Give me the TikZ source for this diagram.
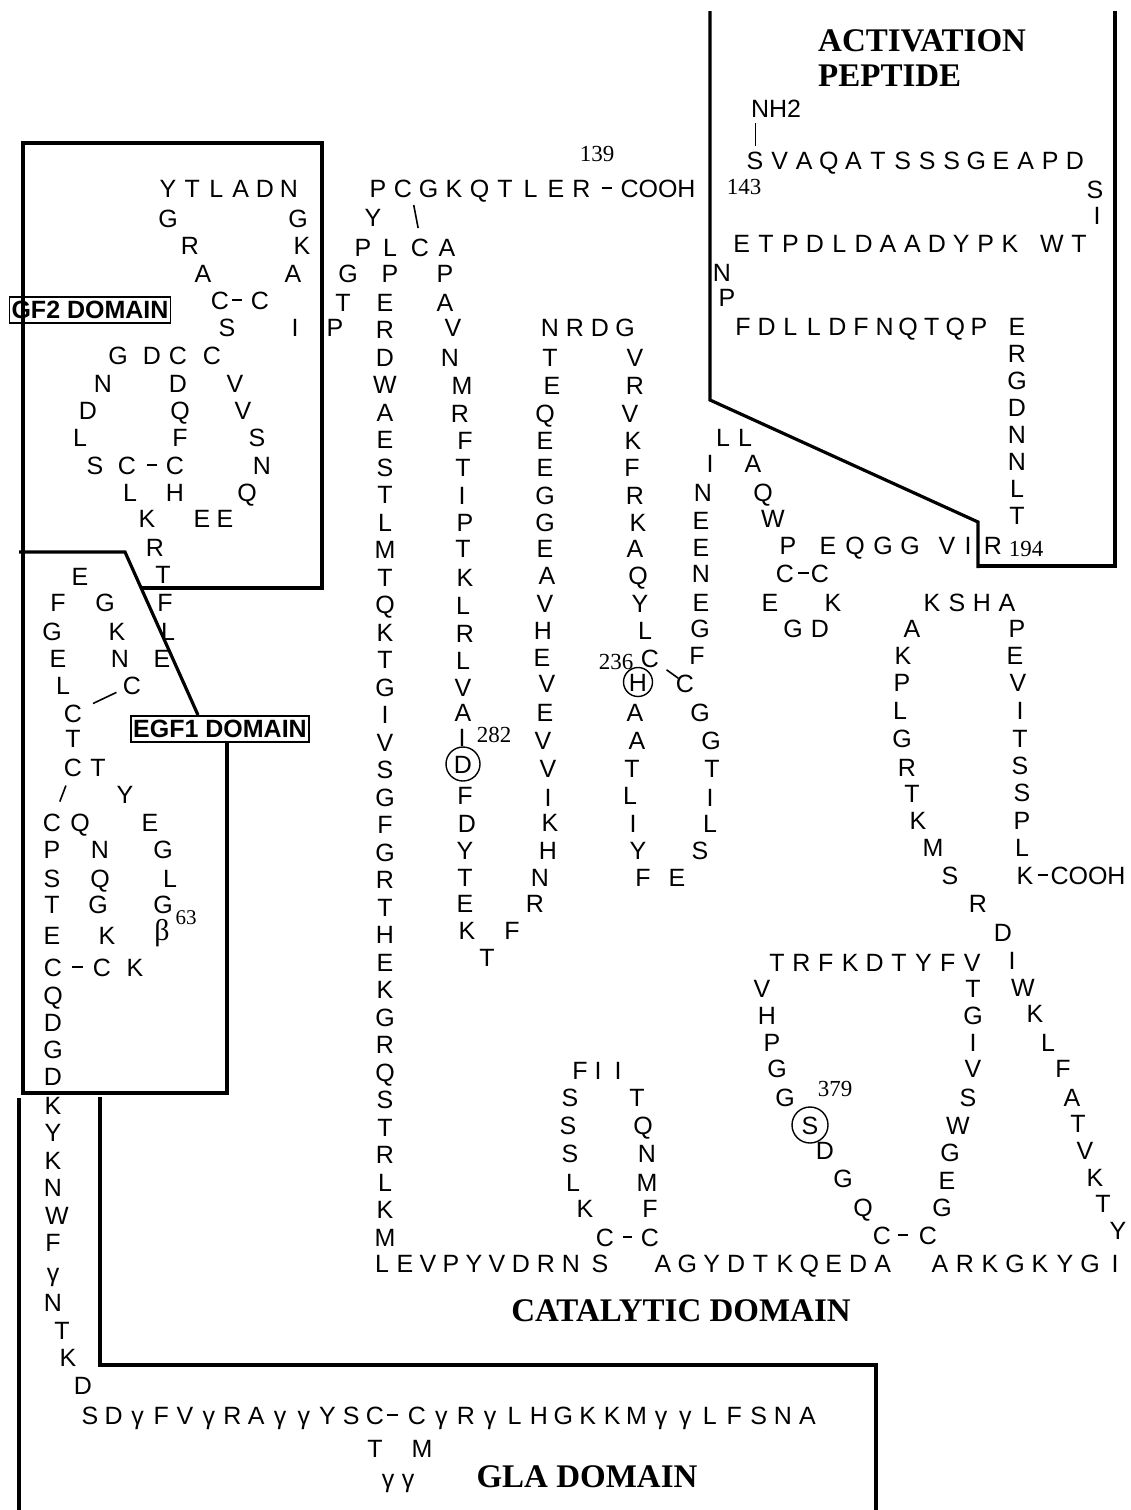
\documentclass[tikz,border=0pt]{standalone}
\usepackage{fontspec}
\setmainfont{Liberation Serif}
\setsansfont{Liberation Sans}
\newcommand\fxresfont{\sffamily\fontsize{25}{30}\selectfont}
\newcommand\fxnumfont{\rmfamily\fontsize{23}{27}\selectfont}
\newcommand\fxdomfont{\rmfamily\bfseries\fontsize{33}{38}\selectfont}
\newcommand\fxtagfont{\sffamily\bfseries\fontsize{25}{30}\selectfont}
\tikzset{
  fx res/.style={font=\fxresfont,inner sep=0pt,text height=18pt,text depth=0pt},
  fx num/.style={font=\fxnumfont,inner sep=0pt},
  fx domain/.style={font=\fxdomfont,inner sep=0pt},
  fx tag/.style={draw,line width=1.6pt,font=\fxtagfont,inner xsep=2pt,inner ysep=4pt},
  fx border/.style={line width=3.2pt},
  fx bond/.style={line width=1.6pt},
  fx ring/.style={line width=1.4pt}
}

\begin{document}
\begin{tikzpicture}[x=1pt,y=-1pt]
  \fill[white] (0,0) rectangle (1131,1510);
  \useasboundingbox (0,0) rectangle (1131,1510);

  \draw[fx border] (142,588) -- (322,588) -- (322,143) -- (23,143) -- (23,1093) -- (227,1093) -- (227,743);
  \draw[fx border] (19,552) -- (125,552) -- (198,715);
  \draw[fx border] (19,1098) -- (19,1510);
  \draw[fx border] (100,1097) -- (100,1365) -- (876,1365) -- (876,1510);
  \draw[fx border] (710,11) -- (710,400) -- (978,522) -- (978,568);
  \draw[fx border] (978,566) -- (1115,566) -- (1115,11);

  \node[fx tag] (egf2tag) at (90,310) {GF2 DOMAIN};
  \node[fx tag] (egf1tag) at (220,729) {EGF1 DOMAIN};
  \node[fx domain,anchor=west] (actlab) at (818,41) {ACTIVATION};
  \node[fx domain,anchor=west] (peplab) at (818,76) {PEPTIDE};
  \node[fx domain] (catlab) at (681,1311) {CATALYTIC DOMAIN};
  \node[fx domain] (glalab) at (587,1477) {GLA DOMAIN};

  \foreach \rc [count=\rn from 1] in {A,N,S,F,L,γ,γ,M,K,K,G,H,L,γ,R,γ,C}
    \node[fx res] (r\rn) at ({807.4-24.4*(\rn-1)},1415) {\rc};
  \node[fx res] (r18) at (422,1448) {M};
  \node[fx res] (r19) at (408,1478) {γ};
  \node[fx res] (r20) at (388,1478) {γ};
  \node[fx res] (r21) at (375,1448) {T};
  \foreach \rc [count=\rn from 22] in {C,S,Y,γ,γ,A,R,γ,V,F,γ,D,S}
    \node[fx res] (r\rn) at ({375-23.75*(\rn-22)},1415) {\rc};
  \foreach \rn/\rc/\x/\y in {35/D/83/1385,36/K/68/1357,37/T/62/1330,38/N/53/1302,39/γ/53/1272,
      40/F/53/1242,41/W/57/1215,42/N/53/1187,43/K/53/1160,44/Y/53/1132,45/K/53/1105,
      46/D/53/1076,47/G/53/1049,48/D/53/1022,49/Q/53/995}
    \node[fx res] (r\rn) at (\x,\y) {\rc};

  \foreach \rn/\rc/\x/\y in {50/C/53/967,51/E/52/935,52/T/52/904,53/S/52/878,54/P/52/849,
      55/C/52/822,56/Q/80/822,57/N/100/849,58/Q/100/878,59/G/98/904,60/K/107/935,
      61/C/102/967,62/K/135/967,64/G/163/904,65/L/170/878,66/G/163/849,67/E/150/822,
      68/Y/125/794,69/T/98/767,70/C/73/767,71/T/73/738,72/C/73/713,73/L/63/685,
      74/E/58/658,75/G/52/631,76/F/58/602,77/E/80/576,78/G/105/602,79/K/117/631,
      80/N/120/658,81/C/132/685,82/E/162/658,83/L/168/631,84/F/165/602,85/T/163/574,
      86/R/155/547,87/K/147/518,88/L/130/492,89/C/127/465,90/S/95/465,91/L/80/437,
      92/D/88/410,93/N/103/383,94/G/118/355,95/D/152/355,96/C/178/355,97/D/178/383,
      98/Q/180/410,99/F/180/437,100/C/175/465,101/H/175/492,102/E/202/518,103/E/225/518,
      104/Q/247/492,105/N/262/465,106/S/257/437,107/V/243/410,108/V/235/383,109/C/212/355,
      110/S/227/327,111/C/220/300,112/A/203/273,113/R/190/245,114/G/168/218,
      121/G/298/218,122/K/302/245,123/A/293/273,124/C/260/300,125/I/295/327,
      126/P/335/327,127/T/343/302,128/G/348/273,129/P/363/247,130/Y/373/217,131/P/378/188}
    \node[fx res] (r\rn) at (\x,\y) {\rc};
  \node[font=\rmfamily\fontsize{30}{34}\selectfont,inner sep=0pt] (r63) at (162,933) {β};
  \node[fx num,font=\rmfamily\fontsize{21}{25}\selectfont] (n63) at (186,918) {63};
  \foreach \rc [count=\rn from 115] in {Y,T,L,A,D,N}
    \node[fx res] (r\rn) at ({168+24.2*(\rn-115)},188) {\rc};
  \foreach \rc [count=\rn from 132] in {C,G,K,Q,T,L,E,R}
    \node[fx res] (r\rn) at ({403+25.5*(\rn-132)},188) {\rc};
  \node[fx res] (cooh1) at (658,188) {COOH};
  \node[fx num] (n139) at (597,154) {139};

  \node[fx res] (nh2) at (776,108) {NH2};
  \foreach \rc [count=\rn from 143] in {S,V,A,Q,A,T,S,S,S,G,E,A,P,D}
    \node[fx res] (r\rn) at ({755+24.6*(\rn-143)},160) {\rc};
  \node[fx num] (n143) at (744,187) {143};
  \node[fx res] (r157) at (1095,189) {S};
  \node[fx res] (r158) at (1097,215) {I};
  \node[fx res] (r159) at (1079,243) {T};
  \node[fx res] (r160) at (1052,243) {W};
  \foreach \rc [count=\rn from 161] in {K,P,Y,D,A,A,D,L,D,P,T,E}
    \node[fx res] (r\rn) at ({1010-24.4*(\rn-161)},243) {\rc};
  \node[fx res] (r173) at (722,272) {N};
  \node[fx res] (r174) at (727,297) {P};
  \foreach \rc [count=\rn from 175] in {F,D,L,L,D,F,N,Q,T,Q,P}
    \node[fx res] (r\rn) at ({743+23.6*(\rn-175)},326) {\rc};
  \foreach \rc [count=\rn from 186] in {E,R,G,D,N,N,L,T}
    \node[fx res] (r\rn) at (1017,{326+27*(\rn-186)}) {\rc};
  \node[fx res] (r194) at (993,545) {R};
  \node[fx num] (n194) at (1026,549) {194};

  \foreach \rn/\rc/\x/\y in {195/I/968/545,196/V/947/545,197/G/910/545,198/G/883/545,
      199/Q/855/545,200/E/828/545,201/C/820/573,202/K/833/602,203/D/820/628,204/G/793/628,
      205/E/770/602,206/C/785/573,207/P/788/545,208/W/773/518,209/Q/763/492,210/A/753/463,
      211/L/745/437,212/L/723/437,213/I/710/463,214/N/703/492,215/E/701/520,216/E/701/547,
      217/N/701/573,218/E/701/602,219/G/700/628,220/F/697/655,221/C/685/683,222/G/700/712,
      223/G/711/740,224/T/712/768,225/I/710/797,226/L/710/823,227/S/700/850,228/E/677/877,
      229/F/643/877,230/Y/638/850,231/I/633/823,232/L/630/795,233/T/632/768,234/A/637/740,
      235/A/635/712,236/H/638/682,237/C/650/658,238/L/645/630,239/Y/640/603,240/Q/638/575,
      241/A/635/548,242/K/638/522,243/R/635/495,244/F/632/467,245/K/633/440,246/V/630/413,
      247/R/635/385,248/V/635/357,249/G/625/327,250/D/600/327,251/R/575/327,252/N/550/327,
      253/T/550/357,254/E/552/385,255/Q/545/413,256/E/545/440,257/E/545/467,258/G/545/495,
      259/G/545/522,260/E/545/548,261/A/547/575,262/V/545/603,263/H/543/630,264/E/542/657,
      265/V/547/683,266/E/545/712,267/V/543/740,268/V/548/768,269/I/548/797,270/K/550/822,
      271/H/548/850,272/N/540/877,273/R/535/903,274/F/512/930,275/T/487/957,276/K/467/930,
      277/E/465/903,278/T/465/877,279/Y/465/850,280/D/467/823,281/F/465/795,282/D/463/764,
      283/I/462/737,284/A/463/712,285/V/463/687,286/L/463/660,287/R/465/633,288/L/463/605,
      289/K/465/577,290/T/463/548,291/P/465/522,292/I/462/495,293/T/463/467,294/F/465/440,
      295/R/460/413,296/M/462/385,297/N/450/357,298/V/453/327,299/A/445/302,300/P/445/273,
      301/A/447/247,302/C/420/247,303/L/390/247,304/P/390/273}
    \node[fx res] (r\rn) at (\x,\y) {\rc};
  \foreach \rc [count=\rn from 305] in {E,R,D,W,A,E,S,T,L,M,T,Q,K,T,G,I,V,S,G,F,G,R,T,H,E,K,G,R,Q,S,T,R,L,K,M}
    \node[fx res] (r\rn) at (385,{302+27.5*(\rn-305)}) {\rc};
  \foreach \rn/\rc/\x in {340/L/382,341/E/405,342/V/428,343/P/451,344/Y/474,345/V/497,
      346/D/521,347/R/546,348/N/571,349/S/600}
    \node[fx res] (r\rn) at (\x,1263) {\rc};
  \foreach \rn/\rc/\x/\y in {350/C/605/1237,351/K/585/1208,352/L/573/1182,353/S/570/1153,
      354/S/568/1125,355/S/570/1097,356/F/580/1070,357/I/598/1070,358/I/618/1070,
      359/T/637/1097,360/Q/643/1125,361/N/647/1153,362/M/647/1182,363/F/650/1208,364/C/650/1237}
    \node[fx res] (r\rn) at (\x,\y) {\rc};
  \foreach \rc [count=\rn from 365] in {A,G,Y,D,T,K,Q,E,D,A}
    \node[fx res] (r\rn) at ({663+24.4*(\rn-365)},1263) {\rc};
  \foreach \rn/\rc/\x/\y in {375/C/882/1235,376/Q/863/1207,377/G/843/1178,378/D/825/1150,
      379/S/810/1125,380/G/785/1097,381/G/777/1068,382/P/772/1042,383/H/767/1015,384/V/762/988}
    \node[fx res] (r\rn) at (\x,\y) {\rc};
  \foreach \rc [count=\rn from 385] in {T,R,F,K,D,T,Y,F,V}
    \node[fx res] (r\rn) at ({777+24.4*(\rn-385)},962) {\rc};
  \foreach \rn/\rc/\x/\y in {394/T/973/988,395/G/973/1015,396/I/973/1042,397/V/973/1068,
      398/S/968/1097,399/W/958/1125,400/G/950/1152,401/E/947/1180,402/G/942/1207,403/C/928/1235}
    \node[fx res] (r\rn) at (\x,\y) {\rc};
  \foreach \rc [count=\rn from 404] in {A,R,K,G,K,Y,G,I}
    \node[fx res] (r\rn) at ({940+25*(\rn-404)},1263) {\rc};
  \foreach \rn/\rc/\x/\y in {412/Y/1118/1230,413/T/1103/1203,414/K/1095/1177,415/V/1085/1150,
      416/T/1078/1123,417/A/1072/1097,418/F/1063/1068,419/L/1048/1042,420/K/1035/1013,
      421/W/1023/987,422/I/1012/960,423/D/1003/932,424/R/978/903,425/S/950/875,426/M/933/847,
      427/K/918/820,428/T/912/793,429/R/907/767,430/G/902/738,431/L/900/710,432/P/902/682,
      433/K/903/655,434/A/912/628}
    \node[fx res] (r\rn) at (\x,\y) {\rc};
  \foreach \rc [count=\rn from 435] in {K,S,H,A}
    \node[fx res] (r\rn) at ({932+25*(\rn-435)},602) {\rc};
  \foreach \rn/\rc/\x/\y in {439/P/1017/628,440/E/1015/655,441/V/1018/682,442/I/1020/710,
      443/T/1020/738,444/S/1020/765,445/S/1022/792,446/P/1022/820,447/L/1022/847,448/K/1025/875}
    \node[fx res] (r\rn) at (\x,\y) {\rc};
  \node[fx res] (cooh2) at (1088,875) {COOH};

  \node[fx num] (n236) at (616,662) {236};
  \node[fx num] (n282) at (494,735) {282};
  \node[fx num] (n379) at (835,1089) {379};

  \draw[fx ring] (r282) circle (17pt);
  \draw[fx ring] (r236) circle (14.5pt);
  \draw[fx ring] (r379) circle (18pt);

  \draw[fx bond,shorten <=3pt,shorten >=10pt] (r22) -- (r17);
  \draw[fx bond,shorten <=10pt,shorten >=10pt] (r50) -- (r61);
  \draw[fx bond,shorten <=12pt,shorten >=10pt] (r55) -- (r70);
  \draw[fx bond,shorten <=12pt,shorten >=7pt] (r72) -- (r81);
  \draw[fx bond,shorten <=11pt,shorten >=9pt] (r89) -- (r100);
  \draw[fx bond,shorten <=3pt,shorten >=9pt] (r111) -- (r124);
  \draw[fx bond,shorten <=8pt,shorten >=10pt] (r132.south east) -- (r302.north);
  \draw[fx bond,shorten <=4pt,shorten >=2pt] (r206) -- (r201);
  \draw[fx bond,shorten <=9pt,shorten >=-3pt] (r237) -- (r221);
  \draw[fx bond,shorten <=9pt,shorten >=9pt] (r350) -- (r364);
  \draw[fx bond,shorten <=7pt,shorten >=11pt] (r375) -- (r403);
  \draw[fx bond,shorten <=11pt,shorten >=8pt] (r139) -- (cooh1);
  \draw[fx bond,shorten <=4pt,shorten >=2pt] (r448) -- (cooh2);
  \draw[line width=1pt,shorten <=5pt,shorten >=6pt] (r143.north) -- (r143.north |- nh2.south);
\end{tikzpicture}
\end{document}
